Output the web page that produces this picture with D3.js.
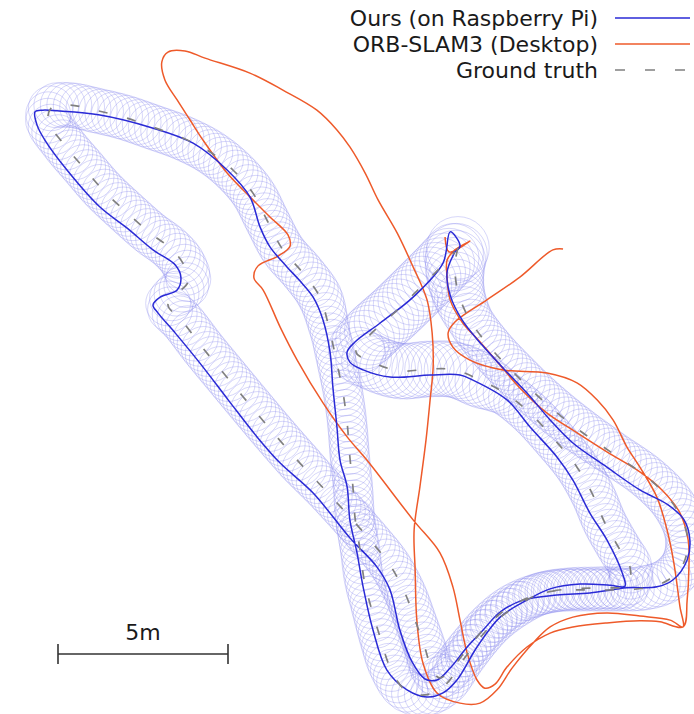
<!DOCTYPE html>
<html><head><meta charset="utf-8">
<script src="https://cdn.jsdelivr.net/npm/d3@7"></script>
<style>body{margin:0;background:#fff} svg{display:block}</style>
</head><body><svg id="c" width="694" height="714"></svg>
<script>
// ---- data (map frame, metres; y grows downwards/south) ----
const groundTruth = [[13.47,7.29],[13.38,7.79],[13.47,8.59],[13.82,9.41],[14.41,10.21],[15.12,10.97],[15.94,11.76],[16.91,12.56],[18.00,13.32],[19.06,14.06],[19.82,14.85],[20.21,15.74],[20.12,16.53],[19.65,17.06],[18.97,17.29],[18.09,17.35],[17.21,17.35],[16.32,17.38],[15.59,17.56],[14.94,17.88],[14.35,18.38],[13.76,19.06],[13.29,19.65],[12.94,19.94],[12.71,19.71],[12.50,19.06],[12.21,18.24],[11.91,17.44],[11.47,16.62],[10.88,15.88],[10.24,15.15],[9.56,14.41],[8.82,13.62],[8.09,12.79],[7.35,11.91],[6.62,11.03],[5.97,10.24],[5.38,9.47],[4.94,8.97],[5.15,8.68],[5.53,8.29],[5.38,7.74],[5.00,7.29],[4.41,6.85],[3.74,6.26],[3.03,5.59],[2.44,4.91],[1.85,4.21],[1.41,3.53],[1.53,3.15],[2.06,3.09],[2.79,3.24],[3.62,3.44],[4.50,3.74],[5.38,4.06],[6.18,4.47],[6.85,5.00],[7.44,5.68],[7.85,6.47],[8.32,7.35],[8.91,8.03],[9.41,8.74],[9.71,9.79],[9.91,10.68],[10.09,11.56],[10.21,12.44],[10.29,13.44],[10.38,14.32],[10.44,15.21],[10.59,16.18],[10.71,17.06],[10.88,17.74],[11.18,18.74],[11.47,19.62],[11.91,20.29],[12.50,20.44],[13.09,20.15],[13.62,19.41],[14.12,18.76],[14.56,18.29],[15.15,17.85],[15.88,17.47],[16.76,17.32],[17.65,17.29],[18.47,17.21],[18.53,16.68],[18.24,16.18],[17.79,15.38],[17.44,14.56],[16.97,13.74],[16.32,12.94],[15.59,12.15],[14.85,11.56],[14.12,11.18],[13.38,10.88],[12.65,10.85],[11.76,10.91],[10.94,10.65],[10.47,10.35],[10.88,9.85],[11.62,9.18],[12.35,8.47],[12.94,7.88],[13.38,7.41]];

// position uncertainty (m) at each ground-truth sample, drawn as circles
const gtSigma = [0.92,0.88,0.78,
  0.68,0.68,0.68,0.68,0.68,
  0.65,0.65,0.65,0.65,0.65,0.65,0.65,
  0.62,0.62,0.62,0.62,0.62,0.62,0.62,0.62,0.62,0.62,0.62,0.62,0.62,0.62,0.62,0.62,0.62,
  0.66,0.66,0.66,0.66,0.66,0.66,0.66,0.66,0.66,0.66,0.66,0.66,0.66,0.66,0.66,0.66,0.66,0.66,0.66,0.66,0.66,0.66,0.66,0.66,0.66,0.66,0.66,0.66,0.66,0.66,
  0.58,0.58,0.58,0.58,0.58,0.58,0.58,0.58,0.58,0.58,
  0.62,0.62,0.62,0.62,0.62,0.62,0.62,0.62,0.62,0.62,0.62,0.62,0.62,
  0.65,0.65,0.65,0.65,0.65,0.65,0.65,0.65,
  0.82,0.82,0.82,0.82,0.82,0.82,
  0.88,0.88,0.88,0.88,0.88];

const oursRpi = [[13.38,7.41],[13.15,8.00],[13.24,8.68],[13.59,9.41],[14.18,10.15],[14.85,10.88],[15.50,11.56],[16.18,12.35],[16.85,13.03],[17.85,13.74],[18.82,14.41],[19.65,14.85],[20.12,15.29],[20.29,15.88],[20.21,16.47],[19.79,17.06],[19.32,17.26],[18.44,17.29],[17.35,17.44],[16.38,17.50],[15.38,17.65],[14.71,18.00],[14.21,18.53],[13.74,19.03],[13.24,19.65],[12.85,20.00],[12.50,19.97],[12.12,19.47],[11.76,18.53],[11.47,17.35],[11.09,16.68],[10.29,15.82],[9.21,14.50],[8.24,13.62],[7.56,12.85],[6.71,11.76],[5.88,10.68],[5.15,9.79],[4.65,9.21],[4.50,8.97],[4.71,8.74],[5.21,8.53],[5.32,8.15],[5.15,7.79],[4.50,7.35],[3.74,6.71],[2.94,6.09],[1.97,5.00],[1.32,4.12],[1.09,3.68],[1.03,3.29],[1.26,3.24],[1.68,3.26],[2.94,3.38],[4.41,3.74],[5.68,4.21],[6.68,5.00],[7.35,5.79],[7.65,6.68],[7.94,7.26],[8.44,7.85],[8.82,8.26],[9.21,8.74],[9.50,9.41],[9.71,10.38],[9.79,11.38],[9.91,12.56],[10.00,13.53],[10.21,14.32],[10.29,15.29],[10.50,16.26],[10.68,17.26],[10.97,18.53],[11.38,19.71],[11.97,20.29],[12.56,20.50],[13.03,20.38],[13.44,20.00],[14.03,19.03],[14.71,18.15],[15.50,17.65],[16.18,17.32],[17.06,17.18],[17.94,17.21],[18.38,17.24],[18.29,16.82],[17.85,15.88],[17.35,15.09],[16.85,14.12],[16.38,13.44],[15.59,12.56],[14.91,11.76],[13.91,11.18],[13.53,11.03],[12.65,11.03],[11.47,11.09],[10.68,10.88],[10.29,10.65],[10.21,10.35],[10.44,10.06],[11.18,9.50],[12.15,8.74],[13.03,7.74],[13.24,6.82],[13.53,7.24],[13.32,7.44]];

const orbSlam3 = [[13.09,6.97],[13.21,7.41],[13.82,7.09],[13.38,7.35],[13.15,7.65],[13.15,8.15],[13.24,8.82],[13.59,9.47],[14.12,10.06],[14.71,10.74],[15.29,11.41],[16.09,12.15],[16.85,12.65],[17.85,13.29],[18.82,13.88],[19.47,14.41],[20.00,15.09],[20.24,15.88],[20.26,16.76],[20.21,17.65],[20.09,18.44],[19.41,18.29],[18.82,18.26],[17.85,18.32],[16.85,18.44],[16.18,18.62],[15.50,19.03],[14.91,19.62],[14.56,20.12],[14.26,20.24],[14.03,20.00],[13.74,19.21],[13.53,18.24],[13.32,17.26],[12.94,16.26],[12.15,15.29],[10.79,13.53],[10.21,12.85],[9.50,11.85],[8.74,10.59],[8.24,9.62],[7.74,8.53],[7.47,8.18],[7.59,7.82],[8.18,7.53],[8.53,7.24],[8.47,6.91],[7.94,6.38],[7.35,5.79],[6.68,5.09],[5.97,4.12],[5.59,3.53],[5.21,2.94],[4.85,2.35],[4.76,1.82],[4.94,1.53],[5.44,1.50],[6.03,1.71],[7.35,2.15],[8.32,2.65],[9.32,3.24],[9.91,3.82],[10.29,4.32],[10.74,5.09],[11.12,5.88],[11.68,6.85],[12.15,7.85],[12.56,8.82],[12.71,9.79],[12.74,10.79],[12.65,11.76],[12.53,12.94],[12.35,14.32],[12.18,15.59],[12.21,16.76],[12.26,18.24],[12.44,19.50],[12.85,20.38],[13.53,20.68],[14.12,20.68],[14.62,20.29],[15.06,19.65],[15.68,18.91],[16.18,18.44],[16.85,18.15],[17.85,18.03],[18.82,18.12],[19.71,18.24],[20.09,18.44],[20.00,17.85],[19.82,16.56],[19.62,15.59],[19.32,14.62],[18.82,13.74],[18.44,13.15],[18.03,12.35],[17.56,11.76],[16.97,11.26],[16.09,10.97],[14.79,10.88],[13.82,10.59],[13.32,10.21],[13.18,9.79],[13.38,9.47],[14.32,8.82],[15.29,8.15],[16.26,7.35],[16.56,7.32]];

const seriesNames = ["Ours (on Raspberry Pi)", "ORB-SLAM3 (Desktop)", "Ground truth"];
const scaleBarMeters = 5;
const scaleBarLabel = "5m";

// ---- layout / style ----
const W = 694, H = 714, PX_PER_M = 34;
const BLUE = "#2a2ad6", ORANGE = "#ee5a2a", GRAY = "#808080", BAND = "#8a8aee";
const FONT = "DejaVu Sans, Verdana, sans-serif";

const x = d3.scaleLinear().domain([0, W / PX_PER_M]).range([0, W]);
const y = d3.scaleLinear().domain([0, H / PX_PER_M]).range([0, H]);

const svg = d3.select("#c");
const gBand = svg.append("g");
const gOrb = svg.append("g");
const gOurs = svg.append("g");
const gGt = svg.append("g");

const line = d3.line().x(d => x(d[0])).y(d => y(d[1])).curve(d3.curveCatmullRom.alpha(0.5));

// ground truth (dashed)
const gtPath = gGt.append("path").datum(groundTruth)
  .attr("d", line).attr("fill", "none").attr("stroke", GRAY)
  .attr("stroke-width", 1.7).attr("stroke-dasharray", "9,20");

// uncertainty band: circles sampled along the ground-truth path
const node = gtPath.node();
const total = node.getTotalLength();
const cum = [0];
for (let i = 1; i < groundTruth.length; i++) {
  const a = groundTruth[i - 1], b = groundTruth[i];
  cum.push(cum[i - 1] + Math.hypot(b[0] - a[0], b[1] - a[1]));
}
const chordTotal = cum[cum.length - 1];
const samples = [];
for (let L = 0; L <= total; L += 6.5) {
  const t = L / total * chordTotal;
  let i = d3.bisectRight(cum, t) - 1;
  i = Math.max(0, Math.min(i, cum.length - 2));
  const f = (t - cum[i]) / (cum[i + 1] - cum[i] || 1);
  const r = gtSigma[i] + (gtSigma[i + 1] - gtSigma[i]) * f;
  const p = node.getPointAtLength(L);
  samples.push({p, r});
}
gBand.selectAll("circle").data(samples).join("circle")
  .attr("cx", d => d.p.x).attr("cy", d => d.p.y)
  .attr("r", d => x(d.r) - x(0))
  .attr("fill", "none").attr("stroke", BAND)
  .attr("stroke-opacity", 0.34).attr("stroke-width", 1);

gOrb.append("path").datum(orbSlam3).attr("d", line)
  .attr("fill", "none").attr("stroke", ORANGE).attr("stroke-width", 1.5)
  .attr("stroke-linejoin", "round");
gOurs.append("path").datum(oursRpi).attr("d", line)
  .attr("fill", "none").attr("stroke", BLUE).attr("stroke-width", 1.5)
  .attr("stroke-linejoin", "round");

// ---- legend ----
const legend = svg.append("g");
const legendStyles = [
  {color: BLUE, dash: null},
  {color: ORANGE, dash: null},
  {color: GRAY, dash: "10,20"}
];
seriesNames.forEach((name, i) => {
  const yy = 26 + i * 26;
  legend.append("text").attr("x", 598).attr("y", yy)
    .attr("text-anchor", "end").attr("font-family", FONT).attr("font-size", 22)
    .attr("fill", "#1a1a1a").text(name);
  legend.append("line").attr("x1", 615).attr("x2", 690)
    .attr("y1", yy - 8).attr("y2", yy - 8)
    .attr("stroke", legendStyles[i].color).attr("stroke-width", 1.6)
    .attr("stroke-dasharray", legendStyles[i].dash);
});

// ---- scale bar ----
const sbX0 = 58 / PX_PER_M, sbY = 654 / PX_PER_M;
const sb = svg.append("g").attr("stroke", "#333").attr("stroke-width", 1.6);
const xa = x(sbX0), xb = x(sbX0 + scaleBarMeters), yb = y(sbY);
sb.append("line").attr("x1", xa).attr("x2", xb).attr("y1", yb).attr("y2", yb);
sb.append("line").attr("x1", xa).attr("x2", xa).attr("y1", yb - 10).attr("y2", yb + 10);
sb.append("line").attr("x1", xb).attr("x2", xb).attr("y1", yb - 10).attr("y2", yb + 10);
svg.append("text").attr("x", (xa + xb) / 2).attr("y", yb - 14)
  .attr("text-anchor", "middle").attr("font-family", FONT).attr("font-size", 22)
  .attr("fill", "#1a1a1a").text(scaleBarLabel);
</script></body></html>
